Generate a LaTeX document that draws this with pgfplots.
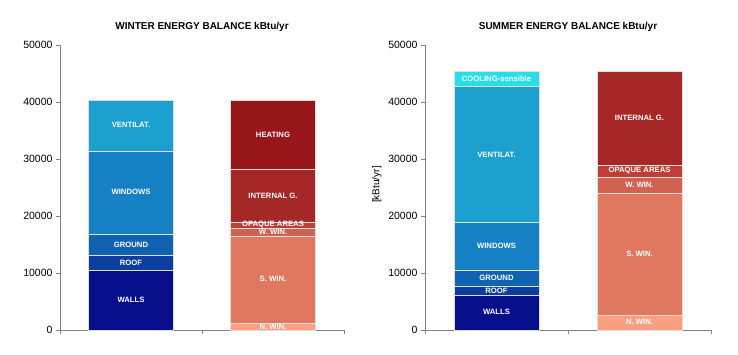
\documentclass[border=0pt]{standalone}
\usepackage{pgfplots}
\pgfplotsset{compat=1.18}
\usepackage{pgfplotstable}
\usepackage{fontspec}
\setmainfont{Liberation Sans}

\definecolor{cWalls}{RGB}{6,14,138}
\definecolor{cRoof}{RGB}{12,62,160}
\definecolor{cGround}{RGB}{16,98,178}
\definecolor{cWindows}{RGB}{22,128,196}
\definecolor{cVent}{RGB}{28,160,208}
\definecolor{cCool}{RGB}{40,222,236}
\definecolor{cNWin}{RGB}{250,160,128}
\definecolor{cSWin}{RGB}{224,120,96}
\definecolor{cWWin}{RGB}{208,98,82}
\definecolor{cOpaque}{RGB}{190,62,54}
\definecolor{cInternal}{RGB}{166,40,38}
\definecolor{cHeating}{RGB}{150,22,26}
\definecolor{cEdge}{RGB}{222,222,222}
\definecolor{cAxis}{RGB}{130,130,130}

% x: 0.5 = losses bar, 1.5 = gains bar
\pgfplotstableread{
x    walls  roof  ground windows vent  cool  nwin  swin  wwin  opaque internal heating
0.5  10500  2600  3700   14600   8950  0     0     0     0     0      0        0
1.5  0      0     0      0       0     0     1200  15300 1300  1100   9300     12150
}\winter
\pgfplotstableread{
x    walls  roof  ground windows vent  cool  nwin  swin  wwin  opaque internal heating
0.5  6100   1550  2850   8450    23850 2600  0     0     0     0      0        0
1.5  0      0     0      0       0     0     2600  21300 2900  2000   16600    0
}\summer

\pgfplotsset{ebal/.style={
  scale only axis, height=285pt,
  xmin=0, xmax=2, ymin=0, ymax=50000,
  axis x line*=bottom, axis y line*=left,
  axis line style={draw=cAxis, line width=0.8pt},
  xtick={0,1,2}, xticklabels={,,},
  ytick={0,10000,...,50000},
  tick align=outside, major tick length=4pt,
  tick style={draw=cAxis, line width=0.8pt},
  scaled y ticks=false,
  /pgf/number format/1000 sep={},
  /pgf/number format/assume math mode=true,
  yticklabel style={font=\fontsize{10.5}{12}\selectfont, text=black},
  ybar stacked, bar width=85pt,
  every axis plot/.append style={draw=cEdge, line width=0.9pt},
  title style={font=\bfseries\fontsize{10}{12}\selectfont, at={(0.5,1)}, anchor=south, yshift=4pt},
  clip=false,
}}
\tikzset{barlbl/.style={text=white, font=\bfseries\fontsize{7.7}{8}\selectfont, inner sep=0pt, fill=none}}

\begin{document}
\begin{tikzpicture}
\useasboundingbox (0pt,0pt) rectangle (738pt,354pt);
% WINTER
\begin{axis}[ebal, width=284pt, at={(60pt,24pt)}, anchor=south west,
  title={WINTER ENERGY BALANCE kBtu/yr}]
\addplot[fill=cWalls] table[x=x,y=walls]{\winter};
\addplot[fill=cRoof] table[x=x,y=roof]{\winter};
\addplot[fill=cGround] table[x=x,y=ground]{\winter};
\addplot[fill=cWindows] table[x=x,y=windows]{\winter};
\addplot[fill=cVent] table[x=x,y=vent]{\winter};
\addplot[fill=cNWin] table[x=x,y=nwin]{\winter};
\addplot[fill=cSWin] table[x=x,y=swin]{\winter};
\addplot[fill=cWWin] table[x=x,y=wwin]{\winter};
\addplot[fill=cOpaque] table[x=x,y=opaque]{\winter};
\addplot[fill=cInternal] table[x=x,y=internal]{\winter};
\addplot[fill=cHeating] table[x=x,y=heating]{\winter};
\end{axis}
\begin{axis}[at={(60pt,24pt)}, anchor=south west, scale only axis, width=284pt, height=285pt,
  xmin=0, xmax=2, ymin=0, ymax=50000, hide axis, clip=false]
\node[barlbl] at (axis cs:0.5,5300) {WALLS};
\node[barlbl] at (axis cs:0.5,11850) {ROOF};
\node[barlbl] at (axis cs:0.5,14950) {GROUND};
\node[barlbl] at (axis cs:0.5,24150) {WINDOWS};
\node[barlbl] at (axis cs:0.5,35950) {VENTILAT.};
\node[barlbl] at (axis cs:1.5,550) {N. WIN.};
\node[barlbl] at (axis cs:1.5,9000) {S. WIN.};
\node[barlbl] at (axis cs:1.5,17250) {W. WIN.};
\node[barlbl] at (axis cs:1.5,18500) {OPAQUE AREAS};
\node[barlbl] at (axis cs:1.5,23600) {INTERNAL G.};
\node[barlbl] at (axis cs:1.5,34300) {HEATING};
\end{axis}
% SUMMER
\begin{axis}[ebal, width=286pt, at={(425pt,24pt)}, anchor=south west,
  title={SUMMER ENERGY BALANCE kBtu/yr},
  ylabel={[kBtu/yr]}, ylabel style={font=\fontsize{10}{12}\selectfont, xshift=3pt}]
\addplot[fill=cWalls] table[x=x,y=walls]{\summer};
\addplot[fill=cRoof] table[x=x,y=roof]{\summer};
\addplot[fill=cGround] table[x=x,y=ground]{\summer};
\addplot[fill=cWindows] table[x=x,y=windows]{\summer};
\addplot[fill=cVent] table[x=x,y=vent]{\summer};
\addplot[fill=cCool] table[x=x,y=cool]{\summer};
\addplot[fill=cNWin] table[x=x,y=nwin]{\summer};
\addplot[fill=cSWin] table[x=x,y=swin]{\summer};
\addplot[fill=cWWin] table[x=x,y=wwin]{\summer};
\addplot[fill=cOpaque] table[x=x,y=opaque]{\summer};
\addplot[fill=cInternal] table[x=x,y=internal]{\summer};
\end{axis}
\begin{axis}[at={(425pt,24pt)}, anchor=south west, scale only axis, width=286pt, height=285pt,
  xmin=0, xmax=2, ymin=0, ymax=50000, hide axis, clip=false]
\node[barlbl] at (axis cs:0.5,3100) {WALLS};
\node[barlbl] at (axis cs:0.5,6950) {ROOF};
\node[barlbl] at (axis cs:0.5,9200) {GROUND};
\node[barlbl] at (axis cs:0.5,14850) {WINDOWS};
\node[barlbl] at (axis cs:0.5,30800) {VENTILAT.};
\node[barlbl] at (axis cs:0.5,44150) {COOLING-sensible};
\node[barlbl] at (axis cs:1.5,1350) {N. WIN.};
\node[barlbl] at (axis cs:1.5,13400) {S. WIN.};
\node[barlbl] at (axis cs:1.5,25400) {W. WIN.};
\node[barlbl] at (axis cs:1.5,27950) {OPAQUE AREAS};
\node[barlbl] at (axis cs:1.5,37200) {INTERNAL G.};
\end{axis}
\end{tikzpicture}
\end{document}
